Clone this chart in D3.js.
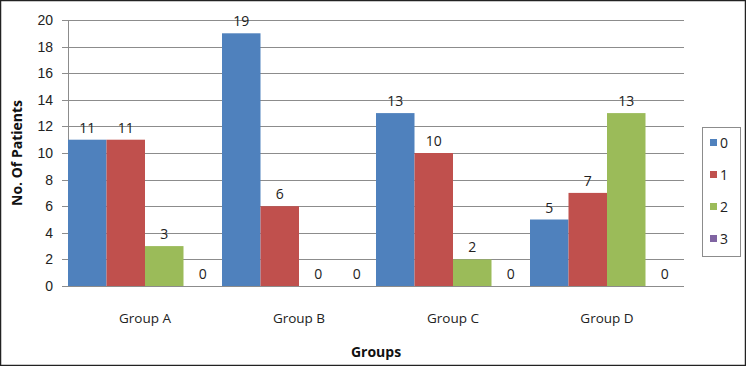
<!DOCTYPE html>
<html>
<head>
<meta charset="utf-8">
<script src="https://cdn.jsdelivr.net/npm/d3@7"></script>
<style>
  body { margin: 0; background: #fff; }
  svg { display: block; font-family: "Open Sans", "Liberation Sans", sans-serif; }
</style>
</head>
<body>
<div id="chart"></div>
<script>
const groups = ["Group A", "Group B", "Group C", "Group D"];
const seriesKeys = ["0", "1", "2", "3"];
const series0 = [11, 19, 13, 5];
const series1 = [11, 6, 10, 7];
const series2 = [3, 0, 2, 13];
const series3 = [0, 0, 0, 0];
const yTicks = [0, 2, 4, 6, 8, 10, 12, 14, 16, 18, 20];
const colors = ["#4F81BD", "#C0504D", "#9BBB59", "#8064A2"];

const allSeries = [series0, series1, series2, series3];

const W = 746, H = 366;
const margin = { top: 20, right: 62, bottom: 80, left: 68 };
const width = W - margin.left - margin.right;
const height = H - margin.top - margin.bottom;

const svg = d3.select("#chart").append("svg")
    .attr("width", W)
    .attr("height", H);

// outer border
svg.append("rect")
    .attr("x", 0.5).attr("y", 0.5)
    .attr("width", W - 1).attr("height", H - 1)
    .attr("fill", "#fff")
    .attr("stroke", "#222")
    .attr("stroke-width", 1.5);

const g = svg.append("g")
    .attr("transform", `translate(${margin.left},${margin.top})`);

const x0 = d3.scaleBand().domain(groups).range([0, width]).padding(0);
const x1 = d3.scaleBand().domain(seriesKeys).range([0, x0.bandwidth()]).padding(0);
const y = d3.scaleLinear().domain([0, 20]).range([height, 0]);
const color = d3.scaleOrdinal().domain(seriesKeys).range(colors);

// gridlines
g.append("g")
    .attr("class", "grid")
    .selectAll("line")
    .data(yTicks)
    .join("line")
    .attr("x1", -6)
    .attr("x2", width)
    .attr("y1", d => Math.round(y(d)) + 0.5)
    .attr("y2", d => Math.round(y(d)) + 0.5)
    .attr("stroke", "#8c8c8c")
    .attr("stroke-width", 1);

// y axis
const yAxis = d3.axisLeft(y).tickValues(yTicks).tickSize(0).tickPadding(15);
g.append("g")
    .attr("class", "axis axis-y")
    .call(yAxis)
    .call(s => s.select(".domain").attr("stroke", "#8c8c8c"))
    .selectAll("text")
    .style("font-size", "14px")
    .attr("fill", "#222");

// bars
const bars = g.selectAll(".bars")
    .data(groups)
    .join("g")
    .attr("class", "bars")
    .attr("transform", d => `translate(${x0(d)},0)`);

bars.selectAll("rect")
    .data((d, gi) => seriesKeys.map((k, si) => ({ key: k, value: allSeries[si][gi] })))
    .join("rect")
    .attr("x", d => x1(d.key))
    .attr("y", d => y(d.value))
    .attr("width", x1.bandwidth())
    .attr("height", d => height - y(d.value))
    .attr("fill", d => color(d.key));

bars.selectAll("text.val")
    .data((d, gi) => seriesKeys.map((k, si) => ({ key: k, value: allSeries[si][gi] })))
    .join("text")
    .attr("class", "val")
    .attr("x", d => x1(d.key) + x1.bandwidth() / 2)
    .attr("y", d => y(d.value) - 7)
    .attr("text-anchor", "middle")
    .style("font-size", "14px")
    .attr("fill", "#222")
    .text(d => d.value);

// x axis line
g.append("line")
    .attr("x1", 0).attr("x2", width)
    .attr("y1", height + 0.5).attr("y2", height + 0.5)
    .attr("stroke", "#8c8c8c");

// group labels
g.selectAll(".glabel")
    .data(groups)
    .join("text")
    .attr("class", "glabel")
    .attr("x", d => x0(d) + x0.bandwidth() / 2)
    .attr("y", height + 37)
    .attr("text-anchor", "middle")
    .style("font-size", "13.5px")
    .attr("fill", "#222")
    .text(d => d);

// axis titles
svg.append("text")
    .attr("x", margin.left + width / 2)
    .attr("y", 357)
    .attr("text-anchor", "middle")
    .style("font-size", "14px")
    .style("font-weight", "bold")
    .attr("fill", "#111")
    .text("Groups");

svg.append("text")
    .attr("transform", `translate(22,${margin.top + height / 2}) rotate(-90)`)
    .attr("text-anchor", "middle")
    .style("font-size", "14px")
    .style("font-weight", "bold")
    .attr("fill", "#111")
    .text("No. Of Patients");

// legend
const legend = svg.append("g")
    .attr("class", "legend")
    .attr("transform", "translate(702,127)");

legend.append("rect")
    .attr("x", 0.5).attr("y", 0.5)
    .attr("width", 38).attr("height", 129)
    .attr("fill", "#fff")
    .attr("stroke", "#8c8c8c");

const items = legend.selectAll(".item")
    .data(seriesKeys)
    .join("g")
    .attr("class", "item")
    .attr("transform", (d, i) => `translate(8,${16 + i * 32})`);

items.append("rect")
    .attr("x", 0).attr("y", -4)
    .attr("width", 7).attr("height", 7)
    .attr("fill", d => color(d));

items.append("text")
    .attr("x", 10)
    .attr("y", 5)
    .style("font-size", "14px")
    .attr("fill", "#222")
    .text(d => d);
</script>
</body>
</html>
